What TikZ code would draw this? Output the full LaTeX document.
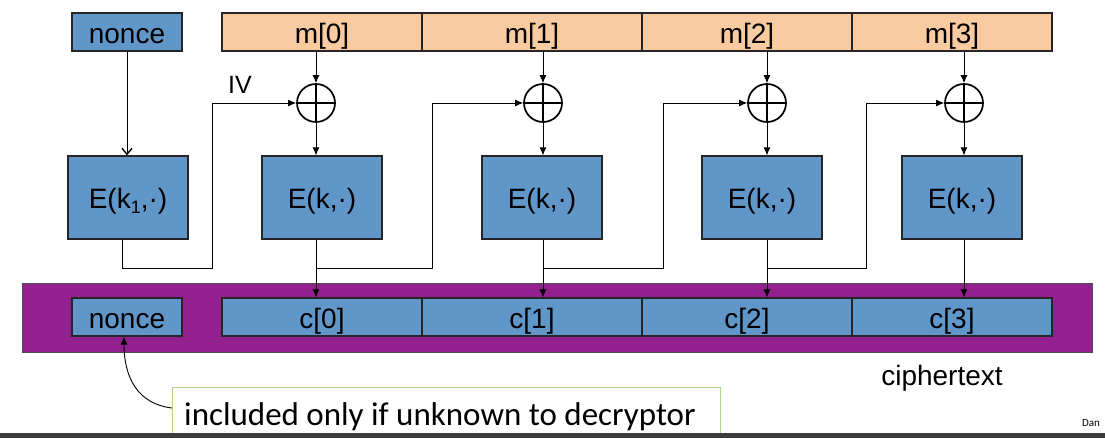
\documentclass[tikz,border=0pt]{standalone}
\usepackage{fontspec}
\setmainfont{Liberation Sans}
\newfontfamily\calfont{Carlito}
\usetikzlibrary{arrows.meta}
\definecolor{eblue}{RGB}{97,150,201}
\definecolor{morange}{RGB}{250,202,160}
\definecolor{cpurple}{RGB}{146,32,142}
\definecolor{cgreen}{RGB}{170,214,130}
\definecolor{barcol}{RGB}{60,60,60}
\begin{document}
\begin{tikzpicture}[x=1pt,y=-1pt,
  bx/.style={draw=black!85, line width=1.2pt, inner sep=0pt, text height=25pt, text depth=2pt, font=\fontsize{28}{30}\selectfont},
  bluebox/.style={bx, fill=eblue},
  orbox/.style={bx, fill=morange},
  xor/.style={circle, draw, line width=1.7pt, minimum size=38pt, inner sep=0pt,
    path picture={\draw[line width=1.7pt] (path picture bounding box.north) -- (path picture bounding box.south)
      (path picture bounding box.west) -- (path picture bounding box.east);}},
  arr/.style={line width=0.9pt, -{Latex[length=8pt,width=7pt]}},
  ln/.style={line width=0.9pt}
]
\useasboundingbox (0,0) rectangle (1105,438);

% ciphertext background
\node[draw=black!70, line width=1pt, fill=cpurple, minimum width=1070pt, minimum height=69pt, inner sep=0pt] (ctbg) at (557,317.5) {};

% top row
\node[bluebox, minimum width=110pt, minimum height=38pt] (n1) at (127,32) {nonce};
\node[orbox, minimum width=200pt, minimum height=38pt] (m0) at (322,32) {m[0]};
\node[orbox, minimum width=220pt, minimum height=38pt] (m1) at (532,32) {m[1]};
\node[orbox, minimum width=210pt, minimum height=38pt] (m2) at (747,32) {m[2]};
\node[orbox, minimum width=200pt, minimum height=38pt] (m3) at (952,32) {m[3]};

% bottom row
\node[bluebox, minimum width=110pt, minimum height=38pt] (n2) at (127,317) {nonce};
\node[bluebox, minimum width=200pt, minimum height=38pt] (c0) at (322,317) {c[0]};
\node[bluebox, minimum width=220pt, minimum height=38pt] (c1) at (532,317) {c[1]};
\node[bluebox, minimum width=210pt, minimum height=38pt] (c2) at (747,317) {c[2]};
\node[bluebox, minimum width=200pt, minimum height=38pt] (c3) at (952,317) {c[3]};

% cipher boxes
\node[bluebox, minimum width=120pt, minimum height=83pt] (e0) at (128,197.5) {E(k{\fontsize{18}{18}\selectfont\raisebox{-5pt}{1}},·)};
\node[bluebox, minimum width=120pt, minimum height=83pt] (e1) at (322,197.5) {E(k,·)};
\node[bluebox, minimum width=120pt, minimum height=83pt] (e2) at (542,197.5) {E(k,·)};
\node[bluebox, minimum width=120pt, minimum height=83pt] (e3) at (762,197.5) {E(k,·)};
\node[bluebox, minimum width=120pt, minimum height=83pt] (e4) at (962,197.5) {E(k,·)};

% xors
\node[xor] (x1) at (316,103) {};
\node[xor] (x2) at (543,103) {};
\node[xor] (x3) at (767,103) {};
\node[xor] (x4) at (964,103) {};

% nonce -> E1
\draw[line width=1pt, -{Straight Barb[length=6pt,width=10pt,line width=1.4pt]}] (n1.south) -- (n1.south |- e0.north);

% m -> xor -> E -> c
\foreach \m/\x/\e/\c in {m0/x1/e1/c0, m1/x2/e2/c1, m2/x3/e3/c2, m3/x4/e4/c3}{
  \draw[arr] (\m.south -| \x) -- (\x.north);
  \draw[arr] (\x.south) -- (\x |- \e.north);
  \draw[arr] (\x |- \e.south) -- (\x |- \c.north);
}

% chaining
\coordinate (j0) at (122,268); \coordinate (t0) at (212,103);
\coordinate (j1) at (316,268); \coordinate (t1) at (432,103);
\coordinate (j2) at (543,268); \coordinate (t2) at (663,103);
\coordinate (j3) at (767,268); \coordinate (t3) at (866,103);
\draw[arr] (e0.south -| j0) -- (j0) -| (t0) -- (x1.west);
\draw[arr] (j1) -| (t1) -- (x2.west);
\draw[arr] (j2) -| (t2) -- (x3.west);
\draw[arr] (j3) -| (t3) -- (x4.west);

\node[font=\fontsize{25}{27}\selectfont] (iv) at (240,85) {IV};
\node[font=\fontsize{28}{30}\selectfont] (ctl) at (942,378) {ciphertext};

% callout
\node[draw=cgreen, line width=1pt, minimum width=548pt, minimum height=60pt, inner sep=0pt, anchor=north west] (cb) at (172,387) {};
\node[anchor=base west, inner sep=0pt, font=\calfont\fontsize{33}{35}\selectfont] (ct) at (184,425) {included only if unknown to decryptor};
\coordinate (cs) at (172,408);
\draw[line width=0.9pt, -{Latex[length=8pt,width=7pt]}] (cs) .. controls (138,404) and (124,378) .. (n2.south -| 124,0);

\fill[barcol] (0,433) rectangle (1105,438);
\node[font=\calfont\fontsize{11}{12}\selectfont] (dan) at (1091,423) {Dan};
\end{tikzpicture}
\end{document}
